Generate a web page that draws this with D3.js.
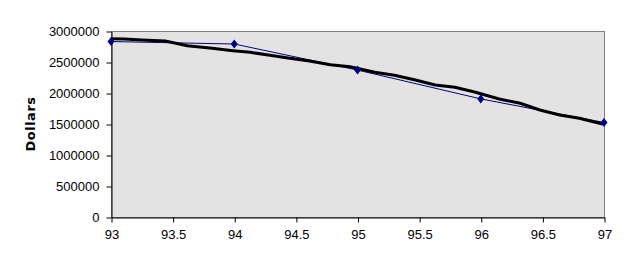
<!DOCTYPE html>
<html>
<head>
<meta charset="utf-8">
<script src="https://cdn.jsdelivr.net/npm/d3@7"></script>
<style>
  body { margin: 0; background: #fff; }
  svg text { font-family: "Liberation Sans", Arial, sans-serif; }
</style>
</head>
<body>
<svg id="graph" width="637" height="271"></svg>
<script>
// yearly points (blue series)
const years = [93, 94, 95, 96, 97];
const dollars = [2830000, 2790000, 2370000, 1905000, 1525000];

// dense series (black line)
const fineYears = [93.00, 93.11, 93.25, 93.44, 93.62, 93.82, 93.99, 94.13, 94.29, 94.45, 94.61,
                   94.78, 94.94, 95.14, 95.30, 95.47, 95.63, 95.79, 95.95, 96.15, 96.32, 96.48,
                   96.64, 96.80, 96.93, 96.99];
const fineDollars = [2876000, 2871000, 2855000, 2839000, 2763000, 2721000, 2682000, 2656000, 2608000,
                     2560000, 2516000, 2456000, 2424000, 2334000, 2285000, 2210000, 2129000, 2092000,
                     2016000, 1903000, 1834000, 1726000, 1645000, 1592000, 1527000, 1500000];

const xTicks = [93, 93.5, 94, 94.5, 95, 95.5, 96, 96.5, 97];
const yTicks = [0, 500000, 1000000, 1500000, 2000000, 2500000, 3000000];

const svg = d3.select('#graph');
const margin = { top: 31, right: 33, bottom: 54, left: 111 };
const width = 637, height = 271;

const xScale = d3.scaleLinear().domain([93, 97]).range([margin.left, width - margin.right]);
const yScale = d3.scaleLinear().domain([0, 3000000]).range([height - margin.bottom, margin.top]);

// plot area
svg.append('rect')
   .attr('x', margin.left + 0.5)
   .attr('y', margin.top + 0.5)
   .attr('width', xScale(97) - xScale(93))
   .attr('height', yScale(0) - yScale(3000000))
   .attr('fill', '#e3e3e3')
   .attr('stroke', '#808080');

const xAxis = d3.axisBottom(xScale).tickValues(xTicks).tickSize(5).tickSizeOuter(0)
                .tickFormat(d3.format(''));
const yAxis = d3.axisLeft(yScale).tickValues(yTicks).tickSize(5).tickSizeOuter(0)
                .tickFormat(d3.format('d'));

const gx = svg.append('g')
   .attr('transform', `translate(0.5, ${yScale(0) + 0.5})`)
   .call(xAxis);
gx.selectAll('text').attr('font-size', '13px').attr('fill', '#000').attr('dy', '1.05em');
gx.select('.domain').attr('stroke', '#000');

const gy = svg.append('g')
   .attr('transform', `translate(${margin.left + 0.5}, 0.5)`)
   .call(yAxis);
gy.selectAll('text').attr('font-size', '13px').attr('fill', '#000').attr('x', -12);
gy.select('.domain').attr('stroke', '#000');
svg.selectAll('.tick line').attr('stroke', '#000');
svg.selectAll('.domain').attr('fill', 'none');

// axis title
svg.append('text')
   .attr('transform', `translate(35, ${(yScale(0) + yScale(3000000)) / 2}) rotate(-90)`)
   .attr('text-anchor', 'middle')
   .style('font-family', '"DejaVu Sans", sans-serif')
   .style('font-weight', 'bold')
   .style('font-size', '13px')
   .style('letter-spacing', '0.5px')
   .text('Dollars');

// blue series
const blueData = years.map((y, i) => ({ x: y, v: dollars[i] }));
svg.append('path')
   .datum(blueData)
   .attr('fill', 'none')
   .attr('stroke', '#000080')
   .attr('stroke-width', 1)
   .attr('d', d3.line().x(d => xScale(d.x)).y(d => yScale(d.v)));

// black series
const blackData = fineYears.map((y, i) => ({ x: y, v: fineDollars[i] }));
svg.append('path')
   .datum(blackData)
   .attr('fill', 'none')
   .attr('stroke', '#000')
   .attr('stroke-width', 3)
   .attr('d', d3.line().x(d => xScale(d.x)).y(d => yScale(d.v)));

// diamond markers
svg.selectAll('.marker')
   .data(blueData)
   .enter().append('path')
   .attr('class', 'marker')
   .attr('transform', d => `translate(${xScale(d.x)}, ${yScale(d.v)})`)
   .attr('d', 'M0,-4.5L3.5,0L0,4.5L-3.5,0Z')
   .attr('fill', '#000080');
</script>
</body>
</html>
